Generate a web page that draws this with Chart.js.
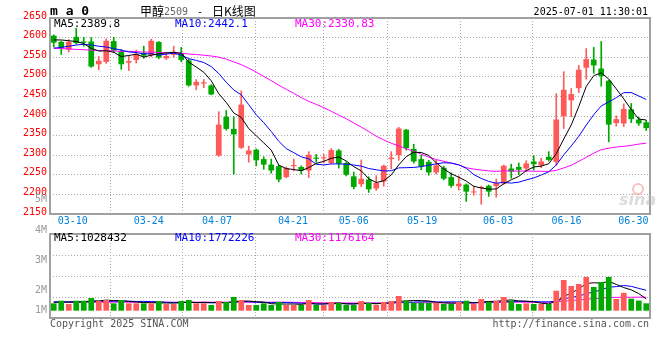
<!DOCTYPE html>
<html>
<head>
<meta charset="utf-8">
<script src="https://cdn.jsdelivr.net/npm/chart.js@4/dist/chart.umd.min.js"></script>
<style>
  body { margin: 0; background: #fff; }
  #wrap { position: relative; width: 660px; height: 360px; }
  canvas { position: absolute; left: 0; }
  #price { top: 0; }
  #vol { top: 190px; }
</style>
</head>
<body>
<div id="wrap">
  <canvas id="price" width="660" height="232"></canvas>
  <canvas id="vol" width="660" height="170"></canvas>
</div>
<script>
// 甲醇2509 daily K-line, sina style

const dates = [
	"03-05", "03-06", "03-07", "03-10", "03-11", "03-12", "03-13", "03-14", "03-17", "03-18",
	"03-19", "03-20", "03-21", "03-24", "03-25", "03-26", "03-27", "03-28", "03-31", "04-01",
	"04-02", "04-03", "04-07", "04-08", "04-09", "04-10", "04-11", "04-14", "04-15", "04-16",
	"04-17", "04-18", "04-21", "04-22", "04-23", "04-24", "04-25", "04-28", "04-29", "04-30",
	"05-06", "05-07", "05-08", "05-09", "05-12", "05-13", "05-14", "05-15", "05-16", "05-19",
	"05-20", "05-21", "05-22", "05-23", "05-26", "05-27", "05-28", "05-29", "05-30", "06-03",
	"06-04", "06-05", "06-06", "06-09", "06-10", "06-11", "06-12", "06-13", "06-16", "06-17",
	"06-18", "06-19", "06-20", "06-23", "06-24", "06-25", "06-26", "06-27", "06-30", "07-01",
];

const open = [
	2605, 2589, 2569, 2602, 2590, 2590, 2532, 2538, 2591, 2565,
	2536, 2543, 2561, 2555, 2589, 2547, 2556, 2561, 2542, 2478,
	2483, 2478, 2299, 2398, 2367, 2319, 2302, 2314, 2290, 2276,
	2272, 2244, 2272, 2270, 2261, 2294, 2292, 2280, 2312, 2280,
	2246, 2226, 2238, 2215, 2233, 2290, 2300, 2365, 2316, 2290,
	2283, 2256, 2268, 2244, 2221, 2225, 2205, 2216, 2222, 2221,
	2228, 2266, 2270, 2266, 2284, 2274, 2296, 2283, 2399, 2440,
	2471, 2523, 2544, 2521, 2490, 2382, 2381, 2417, 2391, 2384,
];
const high = [
	2607, 2591, 2595, 2624, 2601, 2600, 2552, 2597, 2601, 2570,
	2554, 2568, 2578, 2596, 2590, 2562, 2578, 2575, 2545, 2493,
	2493, 2480, 2411, 2414, 2398, 2464, 2323, 2316, 2296, 2290,
	2274, 2270, 2290, 2273, 2309, 2302, 2302, 2317, 2315, 2283,
	2257, 2288, 2245, 2248, 2275, 2309, 2371, 2366, 2328, 2300,
	2287, 2287, 2272, 2255, 2247, 2227, 2221, 2221, 2224, 2239,
	2275, 2277, 2280, 2286, 2299, 2292, 2309, 2457, 2513, 2470,
	2529, 2572, 2575, 2590, 2491, 2400, 2431, 2432, 2397, 2389,
];
const low = [
	2576, 2557, 2563, 2583, 2578, 2524, 2518, 2534, 2562, 2519,
	2516, 2535, 2547, 2551, 2546, 2544, 2550, 2538, 2476, 2467,
	2472, 2454, 2297, 2364, 2252, 2317, 2282, 2273, 2264, 2254,
	2232, 2242, 2260, 2252, 2243, 2282, 2280, 2278, 2267, 2247,
	2214, 2220, 2205, 2210, 2221, 2265, 2287, 2313, 2280, 2263,
	2249, 2252, 2237, 2218, 2211, 2182, 2198, 2175, 2195, 2193,
	2226, 2241, 2250, 2258, 2262, 2268, 2285, 2274, 2368, 2398,
	2460, 2494, 2509, 2476, 2334, 2374, 2373, 2383, 2376, 2363,
];
const close = [
	2587, 2574, 2589, 2586, 2587, 2526, 2541, 2592, 2567, 2532,
	2540, 2558, 2554, 2592, 2549, 2553, 2564, 2543, 2478, 2487,
	2486, 2455, 2378, 2367, 2353, 2429, 2312, 2287, 2276, 2261,
	2238, 2267, 2275, 2261, 2301, 2291, 2294, 2313, 2278, 2250,
	2219, 2240, 2213, 2229, 2273, 2294, 2368, 2318, 2284, 2271,
	2256, 2274, 2240, 2222, 2227, 2207, 2207, 2219, 2207, 2229,
	2273, 2258, 2263, 2279, 2277, 2284, 2288, 2391, 2467, 2456,
	2518, 2545, 2529, 2502, 2378, 2392, 2418, 2392, 2381, 2369,
];

const ma5 = [
	2594, 2594, 2592, 2590, 2584.6, 2572.4, 2565.8, 2566.4, 2562.6, 2551.6,
	2554.4, 2557.8, 2550.2, 2555.2, 2558.6, 2561.2, 2562.4, 2560.2, 2537.4, 2525,
	2511.6, 2489.8, 2456.8, 2434.6, 2407.8, 2396.4, 2367.8, 2349.6, 2331.4, 2313,
	2274.8, 2265.8, 2263.4, 2260.4, 2268.4, 2279, 2284.4, 2292, 2295.4, 2285.2,
	2270.8, 2260, 2240, 2230.2, 2234.8, 2249.8, 2275.4, 2296.4, 2307.4, 2307,
	2299.4, 2280.6, 2265, 2252.6, 2243.8, 2234, 2220.6, 2216.4, 2213.4, 2213.8,
	2227, 2237.2, 2246, 2260.4, 2270, 2272.2, 2278.2, 2303.8, 2341.4, 2377.2,
	2424, 2475.4, 2503, 2510, 2494.4, 2469.2, 2443.8, 2416.4, 2392.2, 2389.8,
];
const ma10 = [
	2573, 2575, 2578, 2581, 2583, 2581, 2578, 2576, 2572, 2568.1,
	2563.4, 2561.8, 2558.3, 2558.9, 2555.1, 2557.8, 2560.1, 2555.2, 2546.3, 2541.8,
	2536.4, 2526.1, 2508.5, 2486, 2466.4, 2454, 2428.8, 2403.2, 2383, 2360.4,
	2335.6, 2316.8, 2306.5, 2295.9, 2290.7, 2276.9, 2275.1, 2277.7, 2277.9, 2276.8,
	2274.9, 2272.2, 2266, 2262.8, 2260, 2260.3, 2267.7, 2268.2, 2268.8, 2270.9,
	2274.6, 2278, 2280.7, 2280, 2275.4, 2266.7, 2250.6, 2240.7, 2233, 2228.8,
	2230.5, 2228.9, 2231.2, 2236.9, 2241.9, 2249.6, 2257.7, 2274.9, 2300.9, 2323.6,
	2348.1, 2376.8, 2403.4, 2425.7, 2435.8, 2446.6, 2459.6, 2459.7, 2451.1, 2442.1,
];
const ma30 = [
	2573, 2572, 2571, 2570, 2569, 2568, 2567, 2567, 2566, 2565,
	2565, 2564, 2563, 2563, 2562, 2561, 2561, 2560, 2558, 2557,
	2555, 2553, 2550, 2545, 2538, 2531, 2522, 2512, 2501, 2490.1,
	2478.5, 2468.2, 2457.8, 2446.9, 2437.4, 2429.6, 2421.3, 2412, 2402.4, 2393,
	2382.3, 2371.7, 2360.3, 2348.2, 2339, 2330.4, 2323.9, 2316.4, 2309.9, 2302.7,
	2295, 2289, 2284.4, 2279.6, 2275.4, 2268, 2264.5, 2262.2, 2259.9, 2258.8,
	2260, 2259.7, 2259.3, 2259.9, 2259.1, 2258.9, 2258.7, 2261.3, 2267.6, 2274.4,
	2284.4, 2294.6, 2305.1, 2314.2, 2317.7, 2321, 2322.6, 2325.1, 2328.3, 2330.83,
];

// volume, thousand lots
const volume = [
	640, 870, 580, 870, 870, 1100, 840, 930, 640, 930,
	640, 640, 640, 640, 840, 580, 580, 840, 930, 640,
	640, 500, 840, 760, 1190, 930, 500, 500, 640, 500,
	760, 500, 500, 500, 930, 500, 500, 760, 670, 500,
	500, 840, 670, 500, 760, 840, 1280, 870, 700, 700,
	700, 700, 580, 580, 760, 870, 580, 1020, 760, 870,
	1190, 870, 580, 640, 580, 580, 580, 1740, 2670, 2150,
	2320, 2930, 2060, 2500, 2930, 1020, 1550, 1050, 880, 640,
];
const volMa5 = [
	740, 750, 750, 760, 770, 860, 850, 920, 880, 890,
	800, 760, 700, 700, 680, 670, 660, 700, 750, 710,
	730, 710, 710, 680, 790, 840, 840, 780, 750, 610,
	580, 580, 580, 550, 640, 590, 590, 640, 670, 590,
	590, 650, 640, 600, 650, 720, 810, 850, 890, 880,
	850, 730, 680, 650, 660, 700, 670, 760, 800, 820,
	880, 940, 850, 830, 770, 650, 590, 820, 1230, 1540,
	1890, 2360, 2430, 2390, 2550, 2290, 2010, 1810, 1490, 1028.432,
];
const volMa10 = [
	760, 770, 770, 780, 780, 790, 800, 810, 820, 830,
	830, 800, 810, 790, 780, 730, 710, 700, 730, 700,
	700, 680, 700, 720, 750, 790, 780, 740, 710, 700,
	710, 710, 680, 650, 630, 580, 580, 610, 610, 610,
	590, 620, 640, 640, 620, 650, 730, 740, 750, 770,
	790, 770, 760, 770, 770, 770, 700, 720, 730, 740,
	790, 810, 810, 810, 800, 770, 770, 840, 1030, 1160,
	1270, 1480, 1630, 1810, 2050, 2090, 2190, 2120, 1940, 1772.226,
];
const volMa30 = [
	720, 720, 720, 730, 730, 730, 730, 740, 740, 740,
	740, 740, 740, 740, 740, 740, 740, 740, 740, 740,
	740, 740, 740, 740, 740, 740, 740, 740, 740, 740,
	750, 730, 730, 720, 720, 700, 690, 680, 680, 670,
	670, 670, 670, 670, 670, 670, 700, 700, 690, 690,
	690, 700, 690, 690, 670, 670, 670, 690, 690, 710,
	720, 730, 740, 740, 730, 730, 730, 770, 830, 890,
	930, 990, 1040, 1100, 1150, 1160, 1170, 1170, 1180, 1176.164,
];

const tickDates = ["03-10", "03-24", "04-07", "04-21", "05-06", "05-19", "06-03", "06-16", "06-30"];

const mono = '"DejaVu Sans Mono", monospace';
const cjk = '"Noto Sans CJK SC", sans-serif';
const RED = "#ff5a5a";
const GREEN = "#00a800";
const GRID = "#aaaaaa";

Chart.defaults.font.family = mono;

const idx = dates.map((d, i) => i);
const colors = idx.map((i) => (close[i] >= open[i] ? RED : GREEN));
const pts = (arr) => arr.map((v, i) => ({ x: i, y: v }));
const last = (arr) => arr[arr.length - 1];

// sina spreads its date grid over n-1 steps while candles use n slots
const gridValue = (k) => (k * dates.length) / (dates.length - 1) - 0.5;
const dateTicks = (s) => {
	s.ticks = tickDates.map((d) => ({ value: gridValue(dates.indexOf(d)) }));
};
const gridColor = (ctx) => (ctx.index === tickDates.length - 1 ? "rgba(0,0,0,0)" : GRID);

const frame = {
	id: "frame",
	afterDatasetsDraw(chart) {
		const { ctx, chartArea: a } = chart;
		ctx.save();
		ctx.strokeStyle = "#a0a0a0";
		ctx.lineWidth = 2;
		ctx.strokeRect(a.left, a.top, a.right - a.left, a.bottom - a.top);
		ctx.restore();
	},
};

const maLine = (data, color) => ({
	type: "line",
	data: pts(data),
	borderColor: color,
	borderWidth: 1,
	pointRadius: 0,
	tension: 0,
	order: 0,
});

// Price pane
const priceText = {
	id: "priceText",
	afterDraw(chart) {
		const ctx = chart.ctx;
		ctx.save();
		ctx.textBaseline = "middle";
		ctx.textAlign = "left";
		ctx.fillStyle = "#000";
		ctx.font = `bold 13px ${mono}`;
		ctx.fillText("m a 0", 50, 12);
		ctx.font = `12px ${cjk}`;
		ctx.fillText("甲醇", 140, 11);
		ctx.fillStyle = "#666";
		ctx.font = `10px ${mono}`;
		ctx.fillText("2509", 164, 12);
		ctx.fillStyle = "#000";
		ctx.fillText("-", 197, 12);
		ctx.font = `12px ${cjk}`;
		ctx.fillText("日K线图", 212, 11);
		ctx.font = `10px ${mono}`;
		ctx.textAlign = "right";
		ctx.fillText("2025-07-01 11:30:01", 648, 12);

		ctx.textAlign = "left";
		ctx.font = `11px ${mono}`;
		[
			["MA5:" + last(ma5), "#000000", 54],
			["MA10:" + last(ma10), "#0000ff", 175],
			["MA30:" + last(ma30), "#ff00ff", 295],
		].forEach(([t, c, x]) => {
			ctx.fillStyle = c;
			ctx.fillText(t, x, 24);
		});

		// watermark
		ctx.font = `italic bold 16px "DejaVu Sans", sans-serif`;
		ctx.fillStyle = "rgba(190,190,190,0.55)";
		ctx.fillText("sina", 619, 201);
		ctx.strokeStyle = "rgba(235,120,120,0.45)";
		ctx.lineWidth = 2;
		ctx.beginPath();
		ctx.arc(638, 189, 5, 0, Math.PI * 2);
		ctx.stroke();
		ctx.restore();
	},
};

new Chart(document.getElementById("price"), {
	type: "bar",
	data: {
		datasets: [
			maLine(ma5, "#000000"),
			maLine(ma10, "#0000ff"),
			maLine(ma30, "#ff00ff"),
			{
				data: idx.map((i) => ({ x: i, y: [open[i], close[i]] })),
				backgroundColor: colors,
				borderWidth: 0,
				grouped: false,
				categoryPercentage: 1,
				barPercentage: 0.76,
				minBarLength: 1,
				order: 1,
			},
			{
				data: idx.map((i) => ({ x: i, y: [low[i], high[i]] })),
				backgroundColor: colors,
				borderWidth: 0,
				grouped: false,
				barThickness: 1,
				order: 2,
			},
		],
	},
	options: {
		responsive: false,
		animation: false,
		events: [],
		layout: { padding: { top: 18, right: 10, bottom: 0, left: 0 } },
		plugins: { legend: { display: false }, tooltip: { enabled: false } },
		scales: {
			x: {
				type: "linear",
				offset: false,
				min: -0.5,
				max: dates.length - 0.5,
				afterBuildTicks: dateTicks,
				afterFit: (s) => {
					s.height = 18;
					s.paddingLeft = 0;
					s.paddingRight = 0;
				},
				ticks: {
					autoSkip: false,
					maxRotation: 0,
					padding: 1,
					color: "#0082dc",
					font: { size: 10 },
					// last date is pushed inward so it stays inside the frame
					callback: (v, i) => (i === tickDates.length - 1 ? tickDates[i] + "   " : tickDates[i]),
				},
				grid: { color: gridColor, drawTicks: false },
				border: { display: false, dash: [1, 2] },
			},
			y: {
				min: 2150,
				max: 2650,
				afterFit: (s) => {
					s.width = 50;
				},
				ticks: {
					stepSize: 50,
					color: "#ff0000",
					font: { size: 10 },
					padding: 3,
					labelOffset: -2,
					callback: (v) => String(v),
				},
				grid: { color: GRID, drawTicks: false },
				border: { display: false, dash: [1, 2] },
			},
		},
	},
	plugins: [frame, priceText],
});

// Volume pane
const volMin = -635;
const volMax = 6670;

const volText = {
	id: "volText",
	afterDraw(chart) {
		const ctx = chart.ctx;
		ctx.save();
		ctx.textBaseline = "middle";
		ctx.font = `10px ${mono}`;
		ctx.fillStyle = "#999";
		ctx.textAlign = "right";
		[["5M", 9.5], ["4M", 40], ["3M", 70], ["2M", 100], ["1M", 120]].forEach(([t, y]) => ctx.fillText(t, 47, y));

		ctx.textAlign = "left";
		ctx.font = `11px ${mono}`;
		const whole = (v) => Math.round(v * 1000);
		[
			["MA5:" + whole(last(volMa5)), "#000000", 54],
			["MA10:" + whole(last(volMa10)), "#0000ff", 175],
			["MA30:" + whole(last(volMa30)), "#ff00ff", 295],
		].forEach(([t, c, x]) => {
			ctx.fillStyle = c;
			ctx.fillText(t, x, 48);
		});

		ctx.font = `10px ${mono}`;
		ctx.fillStyle = "#555";
		ctx.fillText("Copyright 2025 SINA.COM", 50, 134);
		ctx.textAlign = "right";
		ctx.fillText("http://finance.sina.com.cn", 649, 134);
		ctx.restore();
	},
};

const volLine = (data, color) => ({ ...maLine(data, color), order: 1 });

new Chart(document.getElementById("vol"), {
	type: "bar",
	data: {
		datasets: [
			{
				data: idx.map((i) => ({ x: i, y: volume[i] })),
				backgroundColor: colors,
				borderWidth: 0,
				grouped: false,
				categoryPercentage: 1,
				barPercentage: 0.76,
				order: 0,
			},
			volLine(volMa5, "#000000"),
			volLine(volMa10, "#0000ff"),
			volLine(volMa30, "#ff00ff"),
		],
	},
	options: {
		responsive: false,
		animation: false,
		events: [],
		layout: { padding: { top: 44, right: 10, bottom: 42, left: 0 } },
		plugins: { legend: { display: false }, tooltip: { enabled: false } },
		scales: {
			x: {
				type: "linear",
				offset: false,
				min: -0.5,
				max: dates.length - 0.5,
				afterBuildTicks: dateTicks,
				afterFit: (s) => {
					s.height = 0;
					s.paddingLeft = 0;
					s.paddingRight = 0;
				},
				ticks: { display: false, autoSkip: false },
				grid: { color: gridColor, drawTicks: false },
				border: { display: false, dash: [1, 2] },
			},
			y: {
				min: volMin,
				max: volMax,
				afterBuildTicks: (s) => {
					s.ticks = [0, 1, 2, 3, 4].map((q) => ({ value: volMin + (q * (volMax - volMin)) / 4 }));
				},
				afterFit: (s) => {
					s.width = 50;
				},
				ticks: { display: false },
				grid: { color: GRID, drawTicks: false },
				border: { display: false, dash: [1, 2] },
			},
		},
	},
	plugins: [frame, volText],
});
</script>
</body>
</html>
